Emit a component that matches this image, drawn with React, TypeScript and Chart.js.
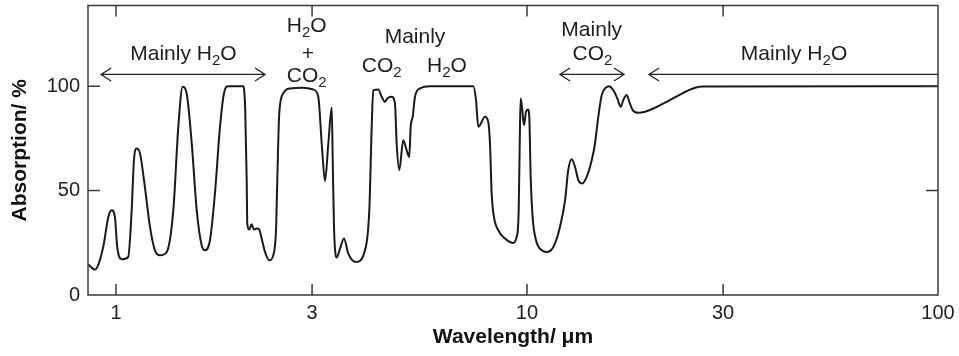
import React, { useEffect, useRef } from "react";
import { Chart, registerables } from "chart.js";

Chart.register(...registerables);

// Wavelength (µm) and absorption (%)
const wavelength = [
  0.855, 0.889, 0.931, 0.958, 0.976, 0.994, 1.007, 1.032, 1.071, 1.092,
  1.106, 1.123, 1.144, 1.176, 1.21, 1.244, 1.28, 1.329, 1.379, 1.418,
  1.453, 1.486, 1.529, 1.572, 1.616, 1.646, 1.693, 1.741, 1.791, 1.831,
  1.876, 2.04, 2.063, 2.08, 2.087, 2.11, 2.139, 2.167, 2.199, 2.232,
  2.262, 2.305, 2.361, 2.414, 2.451, 2.469, 2.496, 2.553, 2.651, 2.856,
  3.02, 3.106, 3.167, 3.226, 3.286, 3.349, 3.368, 3.392, 3.444, 3.508,
  3.587, 3.675, 3.837, 4.035, 4.134, 4.19, 4.227, 4.347, 4.431, 4.513,
  4.572, 4.686, 4.773, 4.819, 4.89, 5.0, 5.096, 5.171, 5.212, 5.271,
  5.34, 5.492, 5.808, 7.403, 7.516, 7.613, 7.903, 8.05, 8.128, 8.205,
  8.311, 8.514, 8.843, 9.232, 9.439, 9.546, 9.616, 9.654, 9.723, 9.833,
  9.945, 10.06, 10.13, 10.21, 10.32, 10.52, 10.86, 11.17, 11.59, 12.03,
  12.38, 12.6, 12.85, 13.09, 13.33, 13.63, 13.97, 14.37, 14.64, 14.91,
  15.2, 15.48, 15.83, 16.22, 16.59, 16.9, 17.15, 17.48, 17.74, 18.08,
  18.66, 19.37, 20.29, 21.88, 24.01, 25.64, 26.85, 100,
];
const absorption = [
  14.7, 12.2, 23.0, 37.4, 40.6, 37.4, 23.0, 17.1, 18.2, 40.6,
  64.5, 70.1, 67.8, 51.7, 32.6, 21.4, 19.0, 20.6, 40.6, 80.5,
  99.7, 96.5, 72.5, 40.6, 23.8, 21.4, 26.2, 48.6, 80.5, 96.5,
  100, 100, 88.5, 55.0, 34.2, 31.3, 33.9, 31.3, 31.8, 31.3,
  27.0, 20.6, 16.6, 19.0, 31.0, 55.0, 86.9, 96.5, 98.9, 99.2,
  98.4, 94.9, 72.5, 54.6, 72.5, 89.8, 64.5, 32.6, 17.9, 22.2,
  27.0, 19.8, 15.8, 21.4, 40.6, 80.5, 98.1, 98.4, 94.9, 92.5,
  94.1, 94.9, 91.7, 72.5, 59.8, 74.1, 69.3, 66.1, 80.5, 85.3,
  94.9, 98.9, 100, 100, 93.3, 80.5, 85.3, 82.9, 72.5, 48.6,
  37.4, 31.0, 27.0, 24.9, 27.8, 40.6, 80.5, 94.1, 90.1, 81.3,
  87.7, 88.8, 85.3, 56.5, 37.4, 26.2, 21.4, 20.6, 23.0, 32.6,
  45.4, 59.8, 65.0, 61.3, 55.0, 53.4, 56.5, 64.5, 72.5, 85.3,
  95.7, 98.9, 100, 98.1, 94.1, 90.1, 93.3, 95.7, 92.5, 88.5,
  87.2, 87.7, 89.3, 92.5, 96.8, 99.2, 99.8, 100,
];

const xTicks = [1, 3, 10, 30, 100];
const yTicks = [0, 50, 100];
const xMin = 0.855;
const xMax = 100;
const yMin = 0;
const yMax = 138.6;

const xTitle = "Wavelength/ μm";
const yTitle = "Absorption/ %";

// Annotation labels ("_2" = subscript 2), anchored in data coordinates
const labelTexts = ["Mainly H_2O", "H_2O", "+", "CO_2", "Mainly", "CO_2", "H_2O", "Mainly", "CO_2", "Mainly H_2O"];
const labelX = [1.459, 2.911, 2.93, 2.911, 5.34, 4.431, 6.389, 14.37, 14.43, 44.64];
const labelY = [112.5, 125.7, 112.3, 102.1, 120.5, 106.9, 106.9, 123.9, 112.5, 112.5];

// Range arrows
const arrowFrom = [0.92, 12.03, 19.81];
const arrowTo = [2.305, 17.22, 100];
const arrowY = [105.6, 105.6, 105.6];
const arrowHeadStart = [true, true, true];
const arrowHeadEnd = [true, true, false];

const FONT = "'Liberation Sans', Arial, Helvetica, sans-serif";

function drawRich(ctx: CanvasRenderingContext2D, text: string, cx: number, by: number) {
  const parts = text.split(/(_\d)/).filter((p) => p.length > 0);
  const main = `21px ${FONT}`;
  const sub = `15px ${FONT}`;
  let w = 0;
  for (const p of parts) {
    ctx.font = p.startsWith("_") ? sub : main;
    w += ctx.measureText(p.startsWith("_") ? p.slice(1) : p).width;
  }
  let x = cx - w / 2;
  for (const p of parts) {
    const isSub = p.startsWith("_");
    const t = isSub ? p.slice(1) : p;
    ctx.font = isSub ? sub : main;
    ctx.fillText(t, x, isSub ? by + 5 : by);
    x += ctx.measureText(t).width;
  }
}

const framePlugin = {
  id: "frameAndNotes",
  afterDatasetsDraw(chart: any) {
    const { ctx, chartArea: a, scales } = chart;
    const xs = scales.x;
    const ys = scales.y;
    ctx.save();
    ctx.strokeStyle = "#3a3a3a";
    ctx.lineWidth = 1.5;
    ctx.strokeRect(a.left, a.top, a.right - a.left, a.bottom - a.top);
    ctx.beginPath();
    for (const v of xTicks) {
      const px = xs.getPixelForValue(v);
      if (px <= a.left + 1 || px >= a.right - 1) continue;
      ctx.moveTo(px, a.bottom);
      ctx.lineTo(px, a.bottom - 11);
      ctx.moveTo(px, a.top);
      ctx.lineTo(px, a.top + 11);
    }
    for (const v of yTicks) {
      const py = ys.getPixelForValue(v);
      if (py >= a.bottom - 1 || py <= a.top + 1) continue;
      ctx.moveTo(a.left, py);
      ctx.lineTo(a.left + 12, py);
      ctx.moveTo(a.right, py);
      ctx.lineTo(a.right - 12, py);
    }
    ctx.stroke();

    // arrows
    ctx.strokeStyle = "#222";
    ctx.lineWidth = 1.3;
    for (let i = 0; i < arrowFrom.length; i++) {
      const x1 = xs.getPixelForValue(arrowFrom[i]);
      const x2 = Math.min(xs.getPixelForValue(arrowTo[i]), a.right);
      const y = ys.getPixelForValue(arrowY[i]);
      ctx.beginPath();
      ctx.moveTo(x1, y);
      ctx.lineTo(x2, y);
      if (arrowHeadStart[i]) {
        ctx.moveTo(x1 + 10, y - 6.5);
        ctx.lineTo(x1, y);
        ctx.lineTo(x1 + 10, y + 6.5);
      }
      if (arrowHeadEnd[i]) {
        ctx.moveTo(x2 - 10, y - 6.5);
        ctx.lineTo(x2, y);
        ctx.lineTo(x2 - 10, y + 6.5);
      }
      ctx.stroke();
    }

    // labels
    ctx.fillStyle = "#1e1e1e";
    ctx.textAlign = "left";
    ctx.textBaseline = "alphabetic";
    for (let i = 0; i < labelTexts.length; i++) {
      drawRich(ctx, labelTexts[i], xs.getPixelForValue(labelX[i]), ys.getPixelForValue(labelY[i]));
    }
    ctx.restore();
  },
};

export default function App() {
  const ref = useRef<HTMLCanvasElement | null>(null);
  useEffect(() => {
    document.body.style.margin = "0";
    const canvas = ref.current;
    if (!canvas) return;
    const chart = new Chart(canvas, {
      type: "line",
      data: {
        datasets: [
          {
            data: wavelength.map((w, i) => ({ x: w, y: absorption[i] })),
            borderColor: "#1a1a1a",
            borderWidth: 2,
            pointRadius: 0,
            fill: false,
            cubicInterpolationMode: "monotone",
          },
        ],
      },
      options: {
        responsive: false,
        maintainAspectRatio: false,
        animation: false,
        layout: { padding: { top: 5.5, right: 21, left: 0, bottom: 0 } },
        plugins: { legend: { display: false }, tooltip: { enabled: false } },
        scales: {
          x: {
            type: "logarithmic",
            min: xMin,
            max: xMax,
            afterBuildTicks: (s: any) => {
              s.ticks = xTicks.map((v) => ({ value: v }));
            },
            afterFit: (s: any) => {
              s.height = 61;
              s.paddingLeft = 0;
              s.paddingRight = 0;
            },
            grid: { display: false, drawTicks: false },
            border: { display: false },
            ticks: {
              callback: (v: any) => String(v),
              font: { family: FONT, size: 20 },
              color: "#222",
              padding: 6,
              autoSkip: false,
              maxRotation: 0,
            },
            title: {
              display: true,
              text: xTitle,
              font: { family: FONT, size: 21, weight: "bold" },
              color: "#111",
              padding: { top: 0, bottom: 6 },
            },
          },
          y: {
            min: yMin,
            max: yMax,
            afterBuildTicks: (s: any) => {
              s.ticks = yTicks.map((v) => ({ value: v }));
            },
            afterFit: (s: any) => {
              s.width = 88;
              s.paddingTop = 0;
              s.paddingBottom = 0;
            },
            grid: { display: false, drawTicks: false },
            border: { display: false },
            ticks: {
              font: { family: FONT, size: 20 },
              color: "#222",
              padding: 8,
            },
            title: {
              display: true,
              text: yTitle,
              font: { family: FONT, size: 21, weight: "bold" },
              color: "#111",
              padding: { top: 8, bottom: 0 },
            },
          },
        },
      },
      plugins: [framePlugin],
    } as any);
    return () => chart.destroy();
  }, []);
  return (
    <canvas ref={ref} width={959} height={356} style={{ display: "block", width: 959, height: 356 }} />
  );
}
